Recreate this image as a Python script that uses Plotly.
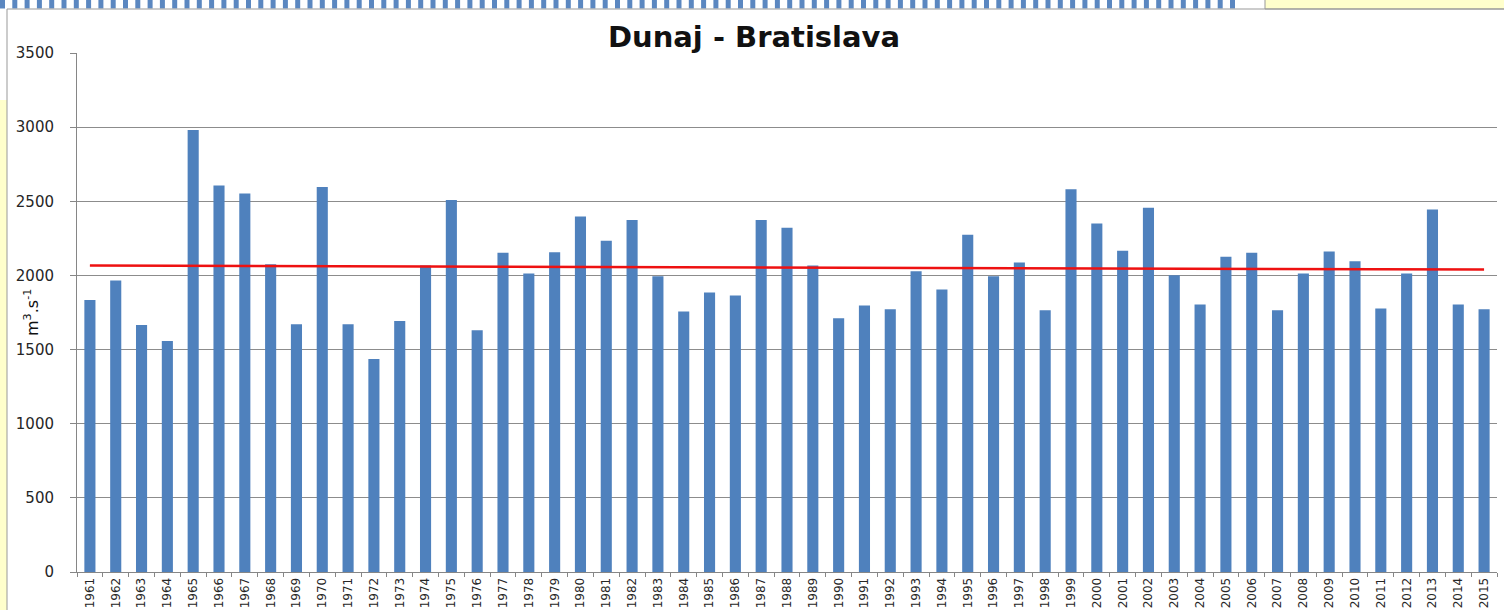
import numpy as np
import plotly.graph_objects as go

years = [str(y) for y in range(1961, 2016)]
discharge = [1835, 1965, 1665, 1557, 2980, 2606, 2552, 2076, 1671, 2597,
             1671, 1437, 1692, 2067, 2509, 1631, 2153, 2013, 2157, 2398,
             2234, 2373, 1995, 1757, 1885, 1865, 2373, 2321, 2067, 1712,
             1797, 1772, 2029, 1905, 2274, 1995, 2088, 1766, 2581, 2351,
             2166, 2457, 2002, 1804, 2126, 2153, 1766, 2013, 2162, 2095,
             1777, 2013, 2444, 1804, 1772]
y_ticks = [0, 500, 1000, 1500, 2000, 2500, 3000, 3500]

idx = np.arange(len(discharge))
slope, intercept = np.polyfit(idx, discharge, 1)
trend = (intercept + slope * idx).tolist()

W, H = 1504, 610
L, R, T, B = 77, 7, 53, 38
PW, PH = W - L - R, H - T - B


def px(x):
    return (x - L) / PW


def py(y):
    return (H - B - y) / PH


fig = go.Figure()
fig.add_trace(go.Bar(x=years, y=discharge, marker=dict(color="#4F81BD", line=dict(width=0)),
                     showlegend=False))
fig.add_trace(go.Scatter(x=years, y=trend, mode="lines",
                         line=dict(color="#EE1111", width=2.5), showlegend=False))

shapes = []
# decorative slide elements
i = 0
while i * 12.3 < 1232:
    x0 = i * 12.3
    shapes.append(dict(type="rect", xref="paper", yref="paper",
                       x0=px(x0), x1=px(x0 + 5), y0=py(8.5), y1=py(-2),
                       fillcolor="#5B87C0", line=dict(width=0)))
    i += 1
shapes.append(dict(type="rect", xref="paper", yref="paper",
                   x0=px(1265), x1=px(W + 2), y0=py(9), y1=py(-2),
                   fillcolor="#FFFFCC", line=dict(color="#999999", width=1)))
shapes.append(dict(type="rect", xref="paper", yref="paper",
                   x0=px(-2), x1=px(7), y0=py(H + 2), y1=py(100),
                   fillcolor="#FFFFCC", line=dict(width=0)))
shapes.append(dict(type="line", xref="paper", yref="paper",
                   x0=px(7), x1=px(7), y0=py(H + 2), y1=py(9),
                   line=dict(color="#999999", width=1)))
shapes.append(dict(type="line", xref="paper", yref="paper",
                   x0=px(7), x1=px(W + 2), y0=py(9), y1=py(9),
                   line=dict(color="#999999", width=1)))

fig.update_layout(
    width=W, height=H,
    margin=dict(l=L, r=R, t=T, b=B, pad=0, autoexpand=False),
    paper_bgcolor="white", plot_bgcolor="white",
    bargap=0.57,
    font=dict(family="DejaVu Sans", color="#262626"),
    title=dict(text="<b>Dunaj - Bratislava</b>", x=754 / W, xref="container", xanchor="center",
               y=1 - 37 / H, yref="container", yanchor="middle",
               font=dict(family="DejaVu Sans", size=29, color="#111111")),
    xaxis=dict(type="category", tickangle=-90, tickfont=dict(size=12, color="#262626"),
               showline=True, linecolor="#868686", linewidth=1,
               ticks="outside", tickson="boundaries", ticklen=4, tickcolor="#868686",
               showgrid=False, range=[-0.5, len(years) - 0.5]),
    yaxis=dict(range=[0, 3500], tickvals=y_ticks, tickfont=dict(size=15, color="#262626"),
               showline=True, linecolor="#868686", linewidth=1,
               ticks="outside", ticklen=6, tickcolor="#868686", ticklabelstandoff=13,
               showgrid=True, gridcolor="#8C8C8C", gridwidth=1, zeroline=False),
    shapes=shapes,
    annotations=[dict(text="m<sup>3</sup>.s<sup>-1</sup>", textangle=-90, showarrow=False,
                      xref="paper", yref="paper", x=px(31), y=py(313),
                      xanchor="center", yanchor="middle",
                      font=dict(family="DejaVu Sans", size=16, color="#111111"))],
)

fig.write_html("out.html", config={"displayModeBar": False},
               post_script="document.body.style.margin='0px';document.body.style.overflow='hidden';")
